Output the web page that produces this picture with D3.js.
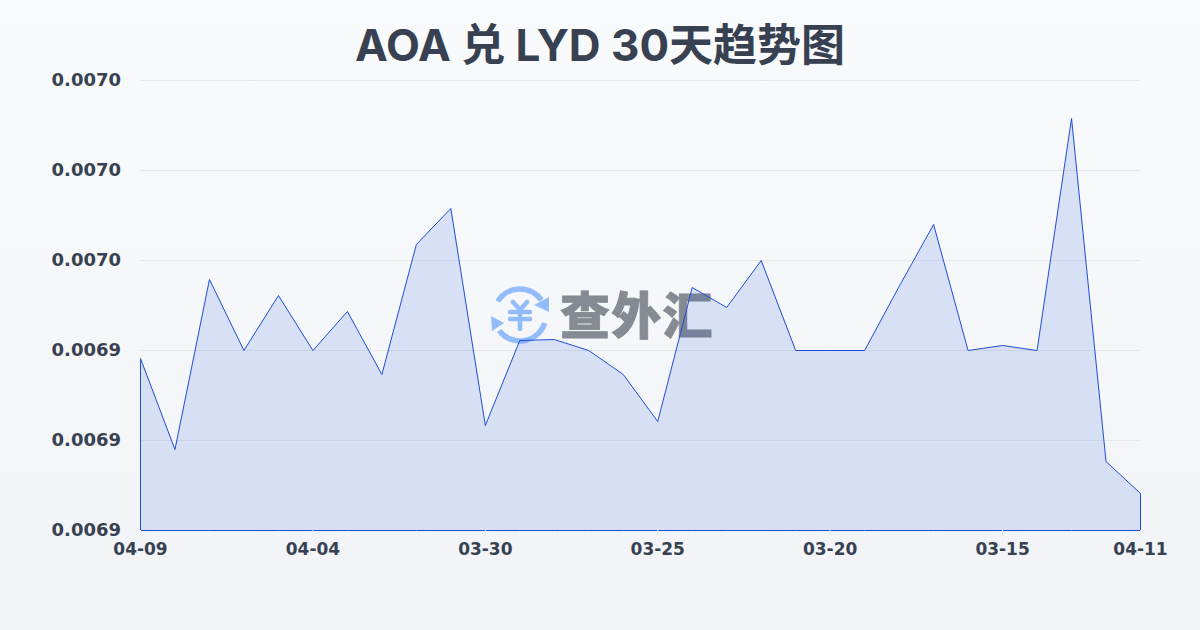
<!DOCTYPE html>
<html><head><meta charset="utf-8">
<script src="https://cdnjs.cloudflare.com/ajax/libs/d3/7.8.5/d3.min.js"></script>
<style>html,body{margin:0;padding:0;background:#f8fafc}svg{display:block}</style>
</head><body><svg id="c" width="1200" height="630"></svg>
<script>
const titleText = "AOA 兑 LYD 30天趋势图";
const watermarkText = "查外汇";
const dates = ["04-09","04-08","04-07","04-06","04-05","04-04","04-03","04-02","04-01","03-31","03-30","03-29","03-28","03-27","03-26","03-25","03-24","03-23","03-22","03-21","03-20","03-19","03-18","03-17","03-16","03-15","03-14","03-13","03-12","04-11"];
const rates = [0.00693822,0.00691800,0.00695578,0.00694000,0.00695222,0.00694000,0.00694867,0.00693467,0.00696356,0.00697156,0.00692333,0.00694222,0.00694244,0.00694000,0.00693467,0.00692422,0.00695400,0.00694956,0.00696000,0.00694000,0.00694000,0.00694000,0.00695422,0.00696800,0.00694000,0.00694111,0.00694000,0.00699156,0.00691533,0.00690822];
const yTicks = [0.0069,0.00692,0.00694,0.00696,0.00698,0.0070];
const xTickDates = ["04-09","04-04","03-30","03-25","03-20","03-15","04-11"];

const svg = d3.select("#c");
const defs = svg.append("defs");
const bg = defs.append("linearGradient").attr("id","bg").attr("x1",0).attr("y1",0).attr("x2",0).attr("y2",1);
bg.append("stop").attr("offset","0%").attr("stop-color","#f8fafc");
bg.append("stop").attr("offset","100%").attr("stop-color","#f1f3f6");
svg.append("rect").attr("width",1200).attr("height",630).attr("fill","url(#bg)");

const x = d3.scalePoint().domain(dates).range([140,1140]);
const y = d3.scaleLinear().domain([0.0069,0.0070]).range([530,80]);
const ink = "#374151";
const latin = "'DejaVu Sans'";

svg.append("g").call(d3.axisLeft(y).tickValues(yTicks).tickSize(-1000).tickPadding(19).tickFormat(d3.format(".4f")))
  .attr("transform","translate(140,0)")
  .call(g=>g.select(".domain").remove())
  .call(g=>g.selectAll("line").attr("stroke","#e5e7eb").attr("stroke-width",1))
  .call(g=>g.selectAll("text").attr("fill",ink).attr("font-family",latin).attr("font-size",18).attr("font-weight",700).attr("dy","0.3em"));

// watermark
const wm = svg.append("g").attr("class","wm");
const blue = "#93bdfa";
const ic = wm.append("g").attr("transform","translate(520,315)").attr("fill","none").attr("stroke",blue);
const arc = d3.arc();
ic.append("path").attr("stroke-width",5.5).attr("stroke-linecap","round")
  .attr("d",arc({innerRadius:26,outerRadius:26,startAngle:-1.02,endAngle:0.97}));
ic.append("path").attr("stroke-width",5.5).attr("stroke-linecap","round")
  .attr("d",arc({innerRadius:26,outerRadius:26,startAngle:1.89,endAngle:4.07}));
ic.append("path").attr("stroke","none").attr("fill",blue).attr("d","M29 -18 L29 -3 L14 -10 Z");
ic.append("path").attr("stroke","none").attr("fill",blue).attr("d","M-29 1 L-28 16 L-16 8 Z");
ic.append("path").attr("stroke-width",4.5).attr("stroke-linecap","round").attr("stroke-linejoin","round")
  .attr("d","M-7 -13 L0 -5 L7 -13 M0 -5 L0 14 M-10 -3 L10 -3 M-10 4 L10 4");
wm.append("text").attr("x",560).attr("y",334).attr("font-family","'Noto Sans CJK SC'").attr("font-weight",900)
  .attr("font-size",50).attr("letter-spacing",1.3).attr("fill","#868a92").attr("stroke","#868a92").attr("stroke-width",0.8).text(watermarkText);

// area + line
const fill = defs.append("linearGradient").attr("id","fill").attr("gradientUnits","userSpaceOnUse").attr("x1",0).attr("y1",80).attr("x2",0).attr("y2",530);
fill.append("stop").attr("offset","0%").attr("stop-color","#1d4ed8").attr("stop-opacity",0.14);
fill.append("stop").attr("offset","100%").attr("stop-color","#1d4ed8").attr("stop-opacity",0.13);
const pts = rates.map((v,i)=>[dates[i],v]);
svg.append("path").datum(pts).attr("transform","translate(0.5,0.5)").attr("fill","url(#fill)").attr("stroke","#1d4ed8").attr("stroke-width",1)
  .attr("stroke-linejoin","round")
  .attr("d",d3.area().x(d=>x(d[0])).y0(y(0.0069)).y1(d=>y(d[1])));

// x axis
svg.append("g").attr("transform","translate(0,530)")
  .call(d3.axisBottom(x).tickValues(xTickDates).tickSize(6).tickPadding(7))
  .call(g=>g.select(".domain").remove())
  .call(g=>g.selectAll("line").attr("stroke","#e5e7eb"))
  .call(g=>g.selectAll("text").attr("fill",ink).attr("font-family",latin).attr("font-size",17).attr("font-weight",700));

// title
svg.append("text").attr("x",600).attr("y",61).attr("text-anchor","middle").attr("fill",ink)
  .attr("font-family","Inter,'Noto Sans CJK SC'").attr("font-size",44).attr("font-weight",700).text(titleText);
</script></body></html>
